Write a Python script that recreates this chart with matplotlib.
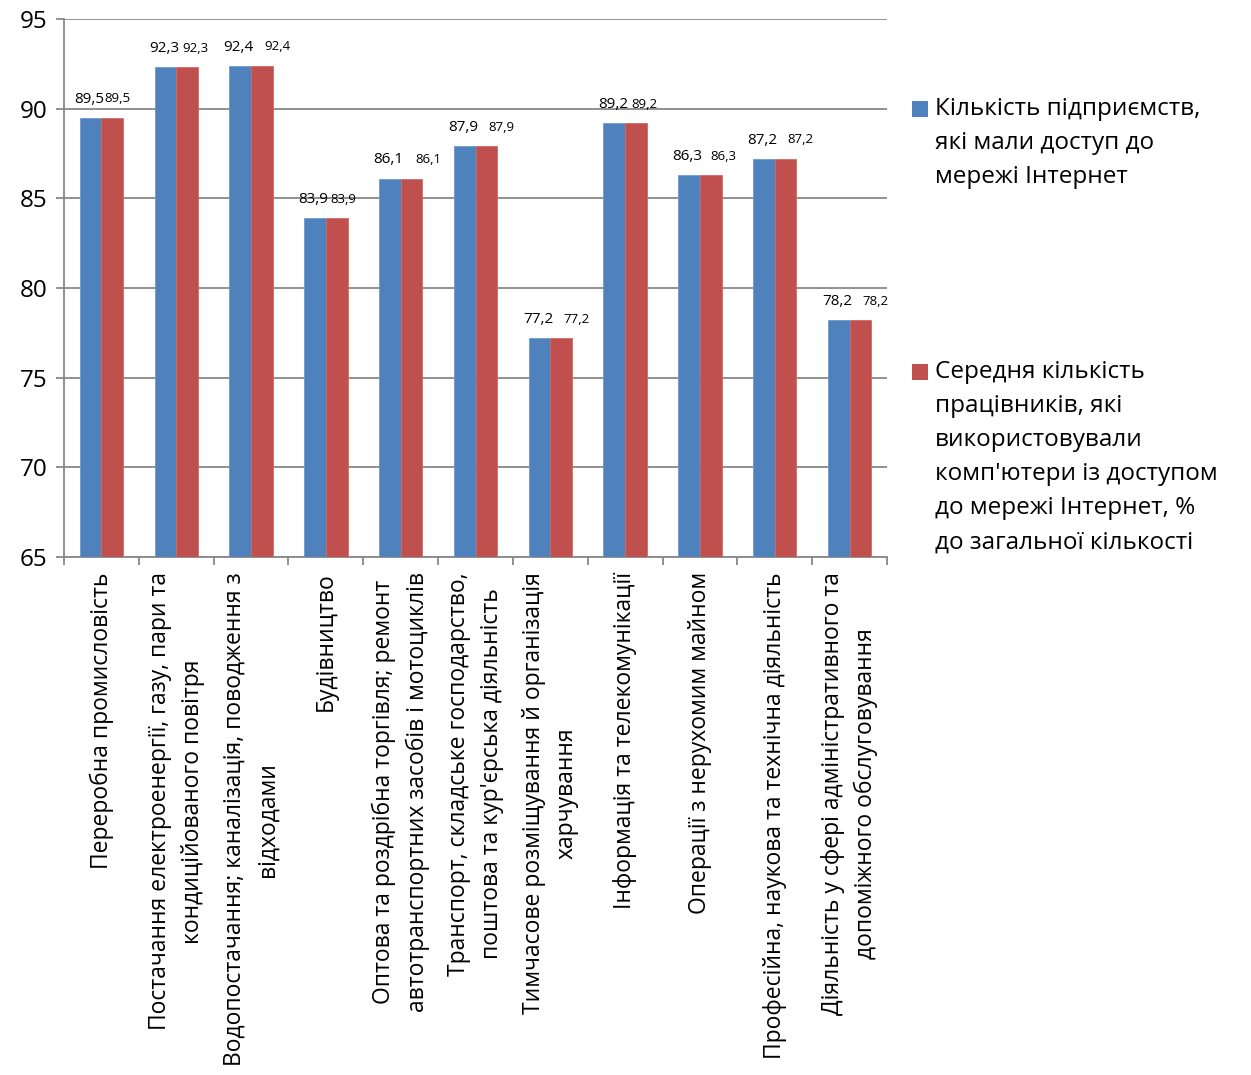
import numpy as np
import matplotlib.pyplot as plt
from matplotlib.patches import Rectangle

plt.rcParams['font.family'] = ['Open Sans', 'DejaVu Sans']

categories = [
    'Переробна промисловість',
    'Постачання електроенергії, газу, пари та\nкондиційованого повітря',
    'Водопостачання; каналізація, поводження з\nвідходами',
    'Будівництво',
    'Оптова та роздрібна торгівля; ремонт\nавтотранспортних засобів і мотоциклів',
    "Транспорт, складське господарство,\nпоштова та кур'єрська діяльність",
    'Тимчасове розміщування й організація\nхарчування',
    'Інформація та телекомунікації',
    'Операції з нерухомим майном',
    'Професійна, наукова та технічна діяльність',
    'Діяльність у сфері адміністративного та\nдопоміжного обслуговування',
]
internet_access = [89.5, 92.3, 92.4, 83.9, 86.1, 87.9, 77.2, 89.2, 86.3, 87.2, 78.2]
workers_internet = [89.5, 92.3, 92.4, 83.9, 86.1, 87.9, 77.2, 89.2, 86.3, 87.2, 78.2]
series_names = [
    'Кількість підприємств,\nякі мали доступ до\nмережі Інтернет',
    'Середня кількість\nпрацівників, які\nвикористовували\nкомп\'ютери із доступом\nдо мережі Інтернет, %\nдо загальної кількості',
]
y_ticks = [65, 70, 75, 80, 85, 90, 95]

# horizontal shift (points) of the second series' value labels
red_label_shift = [4, 6, 11, 5, 12, 11, 11, 6, 9, 11, 11]

blue = '#4F81BD'
red = '#C0504D'
grid_col = '#888888'

fig = plt.figure(figsize=(12.51, 10.75), dpi=100)
ax = fig.add_axes([64 / 1251, 1 - 557 / 1075, 823 / 1251, 538 / 1075])

x = np.arange(len(categories))
w = 0.29
b1 = ax.bar(x - w / 2, internet_access, w, color=blue, edgecolor='#6F9AD0', linewidth=0.6, zorder=3)
b2 = ax.bar(x + w / 2, workers_internet, w, color=red, edgecolor='#D06A67', linewidth=0.6, zorder=3)

fmt = lambda v: f'{v:.1f}'.replace('.', ',')
for rect, v in zip(b1, internet_access):
    ax.annotate(fmt(v), (rect.get_x() + rect.get_width() / 2, v), xytext=(-1, 8),
                textcoords='offset points', ha='center', va='bottom', fontsize=11)
for rect, v, dx in zip(b2, workers_internet, red_label_shift):
    ax.annotate(fmt(v), (rect.get_x() + rect.get_width() / 2, v), xytext=(dx, 9),
                textcoords='offset points', ha='center', va='bottom', fontsize=9.5)

ax.set_ylim(65, 95)
ax.set_xlim(-0.5, len(categories) - 0.5)
ax.set_yticks(y_ticks)
ax.yaxis.grid(True, color=grid_col, linewidth=1.3, zorder=0)
ax.tick_params(axis='y', labelsize=17.5, length=6, width=1.3, color=grid_col, pad=6)

# category boundaries carry the tick marks, names sit between them
ax.set_xticks(np.arange(len(categories) + 1) - 0.5)
ax.set_xticklabels([])
ax.set_xticks(x, minor=True)
ax.set_xticklabels(categories, minor=True, rotation=90, fontsize=16.5,
                   ha='center', va='top', multialignment='center', linespacing=1.5)
ax.tick_params(axis='x', which='major', length=6, width=1.3, color=grid_col)
ax.tick_params(axis='x', which='minor', length=0, pad=11)

for side in ['top', 'right']:
    ax.spines[side].set_visible(False)
for side in ['left', 'bottom']:
    ax.spines[side].set_color(grid_col)
    ax.spines[side].set_linewidth(1.3)

# legend drawn by hand so the swatch sits on the first text line
legend_tops = [97, 360]
for bars, name, top in zip([b1, b2], series_names, legend_tops):
    fig.patches.append(Rectangle((912 / 1251, 1 - (top + 20) / 1075), 16 / 1251, 16 / 1075,
                                 transform=fig.transFigure, facecolor=bars[0].get_facecolor(),
                                 edgecolor='none'))
    fig.text(935 / 1251, 1 - top / 1075, name, fontsize=17.5, va='top', ha='left',
             linespacing=1.56)

fig.savefig('out.png', dpi=100)
